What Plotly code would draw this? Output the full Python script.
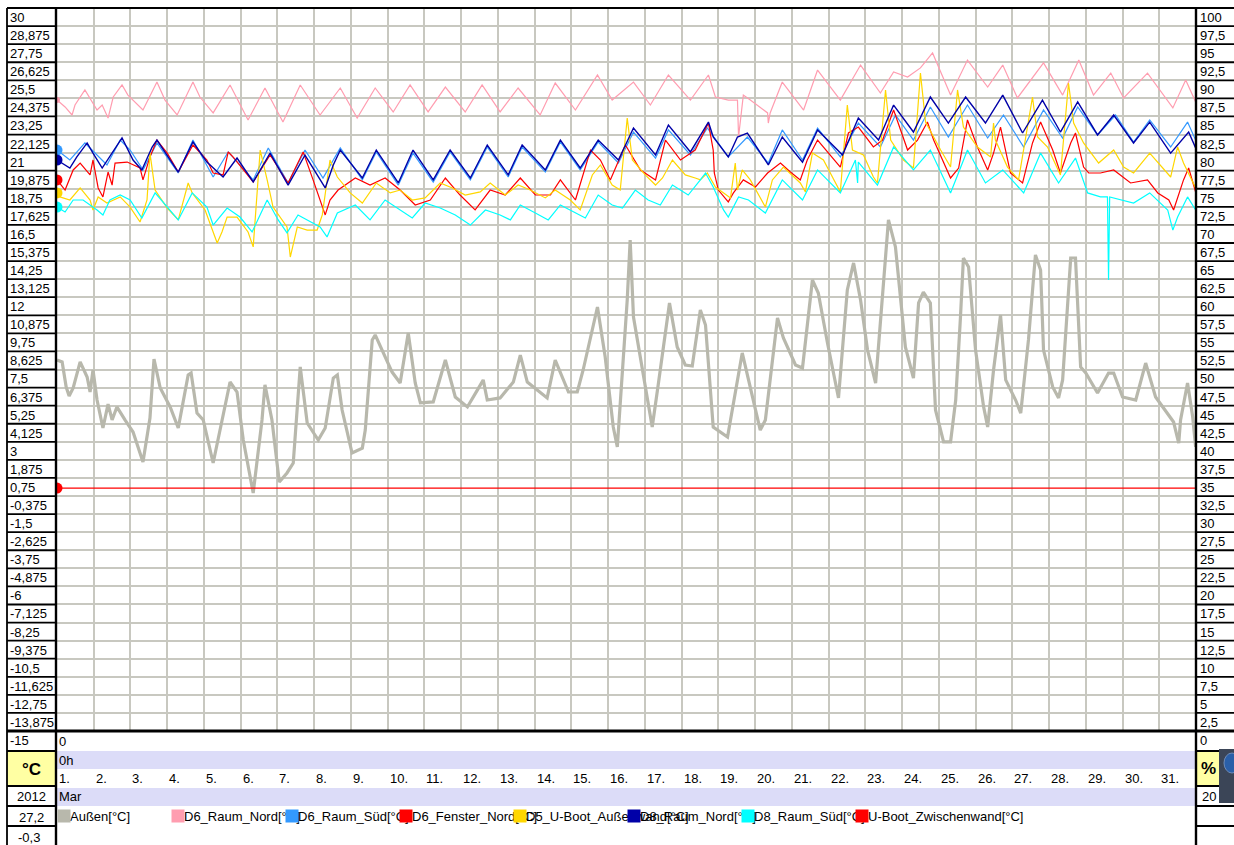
import plotly.graph_objects as go

FONT = "Liberation Sans, Arial, sans-serif"

# ---------------- data (day offset from 1 March 2012 00:00, value in °C) ----------------
aussen_day = [0,0.14,0.25,0.33,0.44,0.63,0.82,0.90,0.98,1.09,
              1.25,1.39,1.50,1.63,1.85,2.07,2.34,2.53,2.64,2.81,
              3.08,3.30,3.57,3.65,3.81,3.98,4.25,4.49,4.71,4.90,
              5.07,5.34,5.58,5.66,5.85,6.05,6.26,6.43,6.62,6.81,
              7.11,7.30,7.52,7.63,7.76,8.03,8.31,8.39,8.58,8.66,
              8.85,9.12,9.34,9.56,9.75,9.89,10.24,10.57,10.84,11.17,
              11.44,11.60,11.71,12.06,12.42,12.61,12.80,13.15,13.34,13.56,
              13.92,14.16,14.32,14.71,14.92,15.14,15.25,15.52,15.60,15.69,
              15.96,16.20,16.37,16.67,16.88,17.10,17.29,17.51,17.65,17.86,
              18.25,18.65,19.14,19.28,19.61,19.77,20.10,20.29,20.56,20.72,
              20.97,21.27,21.51,21.68,21.87,22.06,22.28,22.63,22.82,23.09,
              23.31,23.45,23.58,23.77,23.91,24.13,24.32,24.46,24.59,24.67,
              24.81,25.00,25.22,25.33,25.49,25.68,25.82,26.09,26.23,26.44,
              26.63,26.77,26.85,27.10,27.26,27.37,27.59,27.72,27.86,28.00,
              28.32,28.62,28.76,29.00,29.36,29.63,29.90,30.23,30.39,30.53,
              30.58,30.77,30.91,30.99]
aussen_temp = [8.09,7.97,6.41,5.85,6.35,7.97,7.03,6.10,7.47,5.60,
               3.86,5.35,4.36,5.17,4.36,3.61,1.74,4.48,8.15,6.35,
               5.17,3.86,7.16,7.28,4.79,4.36,1.68,4.36,6.72,6.10,
               3.11,-0.19,4.36,6.54,4.36,0.50,1.06,1.68,7.66,4.17,
               3.11,3.86,6.97,7.16,4.98,2.30,2.61,3.73,9.34,9.65,
               8.71,7.34,6.66,9.77,6.66,5.42,5.48,8.09,5.79,5.17,
               6.22,6.85,5.60,5.73,6.72,8.40,6.72,6.10,5.73,8.09,
               6.10,6.10,7.47,11.39,8.28,3.92,2.68,11.83,15.56,10.77,
               7.28,3.92,6.66,11.64,8.90,7.78,7.72,11.20,10.27,3.92,
               3.30,8.53,3.73,4.36,10.71,9.46,7.78,7.59,13.07,12.26,
               9.15,5.73,12.45,14.13,11.83,8.71,6.66,16.81,15.13,8.90,
               6.97,11.64,12.32,11.64,4.98,2.99,2.99,5.60,10.77,14.44,
               13.88,8.71,5.17,3.92,7.47,10.89,6.85,5.60,4.79,9.34,
               14.63,13.69,8.71,6.41,5.73,6.85,14.44,14.44,7.66,7.28,
               6.04,7.28,7.28,5.79,5.60,7.90,5.79,4.79,4.23,2.92,
               4.36,6.66,4.54,2.68]

d6_raum_nord = [(0,24.27),(0.22,23.84),(0.41,23.34),(0.49,23.96),(0.76,24.90),(0.98,24.09),(1.09,23.65),
    (1.23,23.96),(1.39,23.15),(1.53,24.46),(1.77,25.21),(1.93,24.58),(2.26,23.78),(2.34,23.65),(2.72,25.39),
    (2.94,24.27),(3.27,23.34),(3.70,25.39),(3.89,24.46),(4.25,23.47),(4.71,25.21),(5.20,23.03),(5.66,25.02),
    (6.15,22.90),(6.62,25.21),(7.16,23.34),(7.71,25.02),(8.17,23.15),(8.66,25.02),(9.15,23.53),(9.61,25.21),
    (10.10,23.53),(10.57,25.08),(11.11,23.53),(11.57,25.21),(12.06,23.53),(12.55,25.02),(13.15,23.34),
    (13.56,25.33),(14.11,23.65),(14.71,25.83),(15.11,24.27),(15.69,25.39),(16.15,23.96),(16.64,25.83),
    (17.24,24.27),(17.73,25.83),(17.92,24.46),(18.27,24.27),(18.52,24.27),(18.55,21.97),(18.68,24.58),
    (18.87,24.27),(19.34,23.47),(19.36,22.84),(19.41,23.47),(19.74,25.39),(20.32,23.65),(20.70,26.14),
    (21.32,24.27),(21.87,26.45),(22.41,24.71),(22.77,26.02),(23.15,25.70),(23.50,26.27),(23.83,27.20),
    (24.32,24.58),(24.78,26.76),(25.33,25.08),(25.74,26.45),(26.14,24.40),(26.85,26.58),(27.37,24.58),
    (27.81,26.76),(28.21,24.58),(28.68,25.95),(29.03,24.40),(29.68,25.95),(30.37,23.78),(30.72,25.52),
    (30.99,24.15)]

d6_raum_sued = [(0,21.16),(0.35,20.54),(0.76,21.60),(1.36,20.23),(1.72,21.78),(1.99,21.16),(2.34,19.92),
    (2.72,21.60),(3.30,19.73),(3.70,21.78),(4.25,19.48),(4.66,21.04),(5.34,19.30),(5.75,21.29),(6.29,19.11),
    (6.75,21.16),(7.24,19.42),(7.71,21.29),(8.31,19.30),(8.69,21.04),(9.29,18.98),(9.69,20.97),(10.24,19.17),
    (10.70,21.04),(11.25,19.30),(11.71,21.35),(12.28,19.48),(12.66,21.35),(13.29,19.79),(13.70,21.66),
    (14.24,19.92),(14.73,21.66),(15.28,20.35),(15.69,22.28),(16.29,20.66),(16.64,22.41),(17.24,20.85),
    (17.70,22.53),(18.27,20.73),(18.79,21.97),(19.36,20.35),(19.74,22.41),(20.29,20.54),(20.70,22.53),
    (21.32,20.73),(21.81,22.84),(22.41,21.35),(22.82,23.34),(23.31,21.78),(23.77,23.84),(24.26,21.97),
    (24.78,23.96),(25.33,21.91),(25.76,23.34),(26.31,21.35),(26.85,23.65),(27.37,21.91),(27.78,23.84),
    (28.32,22.10),(28.81,23.34),(29.30,21.66),(29.74,23.03),(30.31,21.35),(30.77,22.90),(30.99,21.78)]

d6_fenster_nord = [(0,19.30),(0.22,18.67),(0.44,19.92),(0.63,20.35),(0.90,19.61),(0.98,20.54),(1.12,18.80),
    (1.25,18.24),(1.39,19.79),(1.50,18.98),(1.58,20.35),(1.91,20.41),(2.26,20.04),(2.34,19.30),(2.53,20.73),
    (2.72,21.78),(3.00,20.97),(3.30,19.79),(3.70,21.47),(4.08,20.54),(4.25,19.73),(4.52,19.61),(4.66,21.04),
    (4.79,20.73),(5.34,19.17),(5.80,20.85),(6.29,19.11),(6.70,21.04),(6.97,19.30),(7.16,18.05),(7.30,17.12),
    (7.43,18.05),(7.65,18.67),(8.12,19.42),(8.52,18.98),(8.93,19.42),(9.34,18.67),(9.75,17.74),(10.16,18.05),
    (10.57,19.42),(10.97,18.36),(11.38,17.43),(11.79,18.67),(12.20,18.36),(12.61,19.42),(13.02,18.36),
    (13.43,18.36),(13.70,19.30),(14.11,18.05),(14.52,21.16),(14.79,20.54),(15.06,19.30),(15.47,21.47),
    (15.88,19.92),(16.29,19.30),(16.56,21.78),(16.97,20.54),(17.37,21.16),(17.51,21.78),(17.73,22.84),
    (17.86,21.16),(17.89,19.73),(18.00,18.67),(18.27,17.93),(18.41,18.49),(18.68,19.30),(19.01,18.86),
    (19.34,19.73),(19.69,20.35),(19.96,19.79),(20.23,19.30),(20.42,20.54),(20.70,21.78),(21.05,20.85),
    (21.32,20.10),(21.54,22.22),(21.81,22.59),(22.22,21.35),(22.47,21.78),(22.77,23.65),(23.15,21.16),
    (23.42,21.78),(23.69,22.90),(23.86,21.78),(24.32,19.42),(24.54,20.04),(24.78,23.03),(25.05,21.35),
    (25.33,19.92),(25.49,20.97),(25.68,22.59),(25.95,19.73),(26.28,19.11),(26.55,21.60),(26.77,22.90),
    (27.10,21.16),(27.31,19.73),(27.59,21.60),(27.72,22.22),(27.94,20.10),(28.08,19.73),(28.40,19.73),
    (28.76,19.92),(29.22,19.11),(29.68,19.30),(29.96,18.49),(30.26,18.05),(30.39,17.43),(30.66,19.30),
    (30.80,20.04),(30.99,18.55)]

d5_uboot_aussenwand = [(0,18.49),(0.08,18.24),(0.35,18.05),(0.63,18.80),(0.90,18.05),(0.98,17.43),(1.12,18.24),
    (1.36,17.86),(1.72,18.24),(1.99,17.61),(2.26,16.68),(2.45,18.05),(2.53,20.97),(2.67,18.67),(3.00,17.55),
    (3.30,16.81),(3.57,19.11),(3.68,18.49),(4.03,17.43),(4.36,15.37),(4.49,16.06),(4.63,16.99),(4.90,16.99),
    (5.20,16.06),(5.34,15.13),(5.53,21.16),(5.72,19.30),(5.88,17.61),(6.26,16.37),(6.35,14.50),(6.54,16.37),
    (6.81,16.18),(7.08,16.18),(7.22,17.12),(7.43,20.54),(7.63,19.48),(7.98,18.49),(8.31,17.86),(8.69,19.11),
    (9.07,18.49),(9.34,18.67),(9.67,18.05),(10.02,18.18),(10.43,19.11),(10.76,18.80),(11.11,18.36),
    (11.52,18.55),(11.79,19.11),(12.20,18.36),(12.55,18.98),(12.88,18.67),(13.29,18.18),(13.56,18.67),
    (13.97,18.05),(14.24,17.43),(14.38,18.36),(14.57,19.61),(14.79,20.23),(15.11,18.98),(15.33,18.67),
    (15.52,23.15),(15.66,20.54),(16.01,19.61),(16.29,18.98),(16.48,19.42),(16.75,20.54),(17.10,19.61),
    (17.37,19.42),(17.51,19.30),(17.70,19.73),(17.92,18.86),(18.33,18.18),(18.46,20.35),(18.52,18.67),
    (18.65,19.92),(18.87,19.30),(19.28,17.61),(19.47,19.30),(19.77,20.10),(20.23,19.11),(20.37,18.55),
    (20.56,20.97),(20.86,20.54),(21.32,18.55),(21.51,23.96),(21.65,21.16),(21.95,20.85),(22.22,19.48),
    (22.33,19.11),(22.55,24.90),(22.69,21.78),(23.04,20.54),(23.31,20.04),(23.50,25.95),(23.64,22.90),
    (24.05,21.16),(24.32,20.10),(24.51,24.90),(24.67,22.59),(25.05,21.35),(25.41,20.73),(25.49,22.84),
    (25.54,21.78),(25.87,20.10),(26.17,19.30),(26.55,24.46),(26.69,21.97),(26.96,21.35),(27.26,19.79),
    (27.31,19.61),(27.53,25.33),(27.67,22.84),(27.94,21.60),(28.35,20.35),(28.76,21.16),(29.03,20.10),
    (29.30,19.73),(29.74,20.97),(30.31,19.48),(30.50,21.35),(30.66,20.35),(30.99,18.80)]

d8_raum_nord = [(0,20.54),(0.35,20.04),(0.54,20.73),(0.82,21.60),(0.98,20.97),(1.23,20.04),(1.77,21.91),
    (2.07,20.54),(2.31,19.92),(2.59,21.35),(2.72,21.78),(3.30,19.79),(3.70,21.66),(4.08,20.41),(4.52,19.48),
    (4.77,20.23),(4.90,20.66),(5.34,19.17),(5.80,20.97),(6.29,18.98),(6.75,20.85),(7.30,18.80),(7.52,20.23),
    (7.71,21.16),(8.31,19.42),(8.69,21.16),(9.29,19.11),(9.69,21.16),(10.24,19.30),(10.70,21.16),(11.25,19.42),
    (11.71,21.47),(12.28,19.61),(12.66,21.47),(13.29,19.92),(13.70,21.78),(14.24,20.04),(14.73,21.78),
    (15.28,20.54),(15.69,22.53),(16.29,20.85),(16.64,22.72),(17.24,21.04),(17.73,22.90),(17.86,21.97),
    (18.27,20.73),(18.52,21.97),(18.79,22.22),(19.36,20.23),(19.74,21.97),(20.29,20.41),(20.70,22.41),
    (21.38,20.85),(21.81,23.15),(22.36,21.78),(22.77,23.96),(23.31,22.28),(23.77,24.46),(24.26,22.84),
    (24.73,24.46),(25.27,22.84),(25.74,24.58),(26.28,22.22),(26.82,24.27),(27.31,22.28),(27.78,24.15),
    (28.32,22.10),(28.76,23.34),(29.30,21.60),(29.74,22.90),(30.31,20.97),(30.80,22.28),(30.99,21.29)]

d8_raum_sued = [(0,17.61),(0.22,17.30),(0.44,18.05),(0.71,18.05),(1.09,17.43),(1.25,17.12),(1.44,18.05),
    (1.72,18.36),(1.99,18.05),(2.31,16.93),(2.67,18.49),(3.00,17.61),(3.30,16.81),(3.68,18.49),(4.08,17.61),
    (4.25,16.49),(4.63,17.55),(4.98,16.99),(5.31,16.06),(5.72,18.05),(6.02,16.81),(6.26,16.00),(6.56,17.12),
    (6.81,16.81),(7.16,16.37),(7.35,15.75),(7.63,17.24),(8.12,17.74),(8.52,16.81),(8.93,18.05),(9.34,17.43),
    (9.67,16.93),(10.02,17.86),(10.43,17.55),(10.84,17.12),(11.25,16.49),(11.66,17.43),(12.06,17.12),
    (12.34,16.81),(12.61,17.74),(13.02,17.24),(13.37,16.81),(13.70,17.74),(14.11,17.24),(14.38,16.93),
    (14.73,18.36),(15.11,17.74),(15.39,17.55),(15.74,18.67),(16.09,18.05),(16.42,17.74),(16.75,18.98),
    (17.18,18.36),(17.51,19.30),(17.65,19.73),(17.86,18.86),(18.14,17.43),(18.27,16.99),(18.55,18.24),
    (18.82,18.05),(19.28,17.24),(19.74,19.30),(20.29,18.05),(20.70,19.92),(21.32,18.49),(21.73,20.54),
    (21.79,19.11),(21.81,20.41),(22.33,18.98),(22.77,21.35),(23.31,19.92),(23.77,21.16),(24.32,18.49),
    (24.78,21.16),(25.27,19.11),(25.74,19.92),(26.31,18.49),(26.77,20.97),(27.26,19.11),(27.72,20.66),
    (28.05,18.49),(28.40,18.24),(28.59,18.24),(28.62,13.07),(28.65,18.24),(29.30,17.86),(29.74,18.49),
    (30.23,17.43),(30.37,16.18),(30.50,16.99),(30.77,18.24),(30.99,17.43)]

uboot_zwischenwand = [(0,0.12),(31,0.12)]

left_tick_labels = ["30","28,875","27,75","26,625","25,5","24,375","23,25","22,125","21","19,875",
                    "18,75","17,625","16,5","15,375","14,25","13,125","12","10,875","9,75","8,625",
                    "7,5","6,375","5,25","4,125","3","1,875","0,75","-0,375","-1,5","-2,625",
                    "-3,75","-4,875","-6","-7,125","-8,25","-9,375","-10,5","-11,625","-12,75","-13,875","-15"]
right_tick_labels = ["100","97,5","95","92,5","90","87,5","85","82,5","80","77,5",
                     "75","72,5","70","67,5","65","62,5","60","57,5","55","52,5",
                     "50","47,5","45","42,5","40","37,5","35","32,5","30","27,5",
                     "25","22,5","20","17,5","15","12,5","10","7,5","5","2,5","0"]
day_labels = ["1.","2.","3.","4.","5.","6.","7.","8.","9.","10.","11.","12.","13.","14.","15.","16.",
              "17.","18.","19.","20.","21.","22.","23.","24.","25.","26.","27.","28.","29.","30.","31."]

series_names = ["Außen[°C]", "D6_Raum_Nord[°C]", "D6_Raum_Süd[°C]", "D6_Fenster_Nord[°C]",
                "D5_U-Boot_Außenwand[°C]", "D8_Raum_Nord[°C]", "D8_Raum_Süd[°C]", "U-Boot_Zwischenwand[°C]"]
series_colors = ["#B8B8AC", "#FF9DB0", "#3399FF", "#FF0000", "#FFD700", "#0000A8", "#00FFFF", "#FF0000"]

# ---------------- geometry helpers (pixel layout of the window) ----------------
W, H = 1234, 845
PL, PR, PT, PB = 57, 1196, 8, 731


def xp(px):
    return (px - PL) / (PR - PL)


def yp(py):
    return (PB - py) / (PB - PT)


def num(s):
    return float(s.replace(",", "."))


left_vals = [num(s) for s in left_tick_labels]
right_vals = [num(s) for s in right_tick_labels]
YMIN, YMAX = left_vals[-1], left_vals[0]
RMIN, RMAX = right_vals[-1], right_vals[0]


def ypix_left(v):
    return PT + (YMAX - v) / (YMAX - YMIN) * (PB - PT)


def ypix_right(v):
    return PT + (RMAX - v) / (RMAX - RMIN) * (PB - PT)


fig = go.Figure()

all_series = [
    (aussen_day, aussen_temp),
    tuple(zip(*d6_raum_nord)),
    tuple(zip(*d6_raum_sued)),
    tuple(zip(*d6_fenster_nord)),
    tuple(zip(*d5_uboot_aussenwand)),
    tuple(zip(*d8_raum_nord)),
    tuple(zip(*d8_raum_sued)),
    tuple(zip(*uboot_zwischenwand)),
]
widths = [3.2, 1.2, 1.2, 1.2, 1.2, 1.4, 1.2, 1.2]
for (xs, ys), name, col, w in zip(all_series, series_names, series_colors, widths):
    fig.add_trace(go.Scatter(x=list(xs), y=list(ys), mode="lines", name=name,
                             line=dict(color=col, width=w), hoverinfo="skip"))

# start-cursor dots at the left edge
for i in [1, 2, 3, 4, 5, 6, 7]:
    xs, ys = all_series[i]
    fig.add_trace(go.Scatter(x=[xs[0]], y=[ys[0]], mode="markers",
                             marker=dict(color=series_colors[i], size=6 if i == 1 else 11),
                             hoverinfo="skip", showlegend=False))

shapes = []


def hline(y, x0, x1, w=1.6, col="black"):
    shapes.append(dict(type="line", xref="paper", yref="paper", x0=xp(x0), x1=xp(x1),
                       y0=yp(y), y1=yp(y), line=dict(color=col, width=w), layer="above"))


def vline(x, y0, y1, w=1.6, col="black"):
    shapes.append(dict(type="line", xref="paper", yref="paper", x0=xp(x), x1=xp(x),
                       y0=yp(y0), y1=yp(y1), line=dict(color=col, width=w), layer="above"))


def rect(x0, y0, x1, y1, fill, line=None):
    shapes.append(dict(type="rect", xref="paper", yref="paper", x0=xp(x0), x1=xp(x1),
                       y0=yp(y0), y1=yp(y1), fillcolor=fill,
                       line=dict(width=0) if line is None else line, layer="below"))


# lavender bands and yellow unit boxes
rect(PL, 751, PR, 769, "#DCDCF8")
rect(PL, 788, PR, 806, "#DCDCF8")
rect(7, 752, 56, 785, "#FFFFA3")
rect(1196, 752, 1220, 786, "#FFFFA3")

# tick-box lines in the side columns
for v in left_vals:
    hline(ypix_left(v), 7, PL, 1.8)
for v in right_vals:
    hline(ypix_right(v), PR, W, 1.8)
for y in [751, 786, 806, 826]:
    hline(y, 7, PL, 1.8)
    hline(y, PR, W, 1.8)
hline(PT, 7, W, 1.8)
hline(PB, 7, W, 3)
vline(7, PT, H, 1.8)
vline(PL - 1, PT, H, 2.4)
vline(PR, PT, H, 2.4)

# small dark tray icon at the bottom-right corner
shapes.append(dict(type="rect", xref="paper", yref="paper", x0=xp(1219), x1=xp(1236),
                   y0=yp(749), y1=yp(803), fillcolor="#3B4557", line=dict(width=0), layer="above"))
shapes.append(dict(type="circle", xref="paper", yref="paper", x0=xp(1224), x1=xp(1240),
                   y0=yp(753), y1=yp(773), fillcolor="#2A5FA8", line=dict(color="#6E8BB8", width=1),
                   layer="above"))

ann = []


def text(x, y, s, size=13, anchor="left", bold=False, xref="paper", xshift=0):
    ann.append(dict(x=x if xref != "paper" else xp(x), y=yp(y), xref=xref, yref="paper",
                    text=f"<b>{s}</b>" if bold else s, showarrow=False, xanchor=anchor,
                    yanchor="middle", xshift=xshift,
                    font=dict(family=FONT, size=size, color="black"), borderpad=0))


for s, v in zip(left_tick_labels, left_vals):
    text(9, ypix_left(v) + 9.5, s)
for s, v in zip(right_tick_labels, right_vals):
    text(1199, ypix_right(v) + 9.5, s)

text(PL + 1, 741, "0")
text(PL + 1, 760, "0h")
text(PL + 1, 797, "Mar")
for i, s in enumerate(day_labels):
    text(i, 778, s, xref="x", xshift=1)

text(31.5, 769, "°C", size=17, anchor="center", bold=True)
text(31, 797, "2012", anchor="center")
text(31, 817, "27,2", anchor="center")
text(29, 837, "-0,3", anchor="center")
text(1208, 768, "%", size=17, anchor="center", bold=True)
text(1201, 797, "20")

# legend row: names first, colour squares drawn afterwards on top
for k, name in enumerate(series_names):
    text(69 + 114 * k, 816, name)
for k, col in enumerate(series_colors):
    ann.append(dict(x=xp(57 + 114 * k), y=yp(816), xref="paper", yref="paper", text="\u00a0",
                    showarrow=False, xanchor="left", yanchor="middle", width=12, height=12,
                    bgcolor=col, borderpad=0, font=dict(size=8)))

fig.update_layout(
    width=W, height=H,
    margin=dict(l=PL, r=W - PR, t=PT, b=H - PB),
    paper_bgcolor="white", plot_bgcolor="white",
    showlegend=False,
    xaxis=dict(range=[0, 31], tickvals=list(range(32)), showticklabels=False, ticks="",
               showgrid=True, gridcolor="#C8C8C0", gridwidth=2, zeroline=False, showline=False,
               fixedrange=True),
    yaxis=dict(range=[YMIN, YMAX], tickvals=left_vals, showticklabels=False, ticks="",
               showgrid=True, gridcolor="#C8C8C0", gridwidth=2, zeroline=False, showline=False,
               fixedrange=True),
    shapes=shapes,
    annotations=ann,
)

fig.write_html("out.html", config={"displayModeBar": False},
               post_script="document.body.style.margin='0';document.body.style.overflow='hidden';")
